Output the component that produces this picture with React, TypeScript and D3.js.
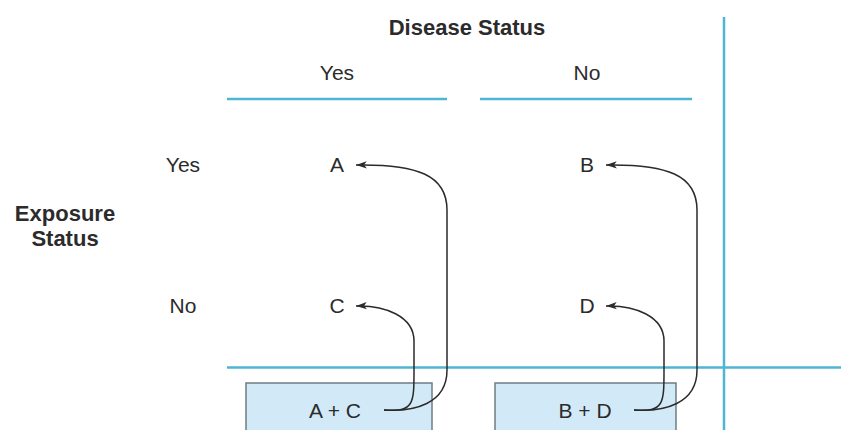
import React from 'react';
import * as d3 from 'd3';

// table content
const diseaseCols = ['Yes', 'No'];
const exposureRows = ['Yes', 'No'];
const cells = [
  ['A', 'B'],
  ['C', 'D'],
];
const colTotals = ['A + C', 'B + D'];

const W = 841;
const H = 430;
const LINE = '#4eb6d3';
const INK = '#2b2b2b';
const FONT = '"Liberation Sans", Arial, Helvetica, sans-serif';

export default function App() {
  // column centres / row centres
  const x = d3.scalePoint<string>().domain(diseaseCols).range([337, 587]);
  const y = d3.scalePoint<string>().domain(exposureRows).range([165, 306]);

  const headW = 220;
  const boxW = 186;
  const boxTop = 383;
  const totalY = 410;

  // curved connector from total text up to a cell letter
  const connector = (x0: number, y0: number, xv: number, x1: number, y1: number, r: number) => {
    const p = d3.path();
    p.moveTo(x0, y0);
    p.bezierCurveTo(x0 + 30, y0 + 2, xv, y0 - 6, xv, y0 - 40);
    p.lineTo(xv, y1 + r);
    p.bezierCurveTo(xv, y1 + 10, xv - 30, y1 - 1, x1, y1);
    return p.toString();
  };

  return (
    <svg width={W} height={H} style={{ display: 'block', position: 'absolute', left: 0, top: 0 }}>
      <defs>
        <marker id="arr" viewBox="0 0 12 10" refX="12" refY="5" markerWidth="12" markerHeight="9" orient="auto" markerUnits="userSpaceOnUse">
          <path d="M12,5 L0,1 L3,5 L0,9 Z" fill={INK} />
        </marker>
      </defs>
      <rect width={W} height={H} fill="#fff" />

      <text x={467} y={35} textAnchor="middle" fontFamily={FONT} fontWeight="bold" fontSize={22} fill={INK}>
        Disease Status
      </text>

      {diseaseCols.map((c, i) => (
        <g key={c}>
          <text x={x(c)} y={80} textAnchor="middle" fontFamily={FONT} fontSize={21} fill={INK}>{c}</text>
          <line x1={i === 0 ? 227 : 480} x2={(i === 0 ? 227 : 480) + (i === 0 ? headW : 212)} y1={99} y2={99} stroke={LINE} strokeWidth={2.5} />
        </g>
      ))}

      <line x1={724} x2={724} y1={17} y2={H} stroke={LINE} strokeWidth={2.5} />
      <line x1={227} x2={W} y1={367.5} y2={367.5} stroke={LINE} strokeWidth={2.5} />

      <text x={65} y={221} textAnchor="middle" fontFamily={FONT} fontWeight="bold" fontSize={22} fill={INK}>Exposure</text>
      <text x={65} y={246} textAnchor="middle" fontFamily={FONT} fontWeight="bold" fontSize={22} fill={INK}>Status</text>

      {exposureRows.map((r) => (
        <text key={r} x={183} y={(y(r) as number) + 7} textAnchor="middle" fontFamily={FONT} fontSize={21} fill={INK}>{r}</text>
      ))}

      {cells.map((row, ri) =>
        row.map((cell, ci) => (
          <text key={cell} x={x(diseaseCols[ci])} y={(y(exposureRows[ri]) as number) + 7} textAnchor="middle" fontFamily={FONT} fontSize={21} fill={INK}>
            {cell}
          </text>
        ))
      )}

      {colTotals.map((t, i) => {
        const cx = x(diseaseCols[i]) as number;
        const bx = i === 0 ? 246 : 495;
        const bw = i === 0 ? boxW : 181;
        const x0 = cx + 47;
        return (
          <g key={t}>
            <rect x={bx} y={boxTop} width={bw} height={H - boxTop + 5} fill="#d2eaf7" stroke="#6f7c84" strokeWidth={1.5} />
            <text x={cx - 2} y={totalY + 8} textAnchor="middle" fontFamily={FONT} fontSize={21} fill={INK}>{t}</text>
            <path d={connector(x0, totalY, cx + 110, cx + 19, y(exposureRows[0]) as number, 45)} fill="none" stroke={INK} strokeWidth={1.5} markerEnd="url(#arr)" />
            <path d={connector(x0, totalY, cx + 77, cx + 19, y(exposureRows[1]) as number, 35)} fill="none" stroke={INK} strokeWidth={1.5} markerEnd="url(#arr)" />
          </g>
        );
      })}
    </svg>
  );
}
